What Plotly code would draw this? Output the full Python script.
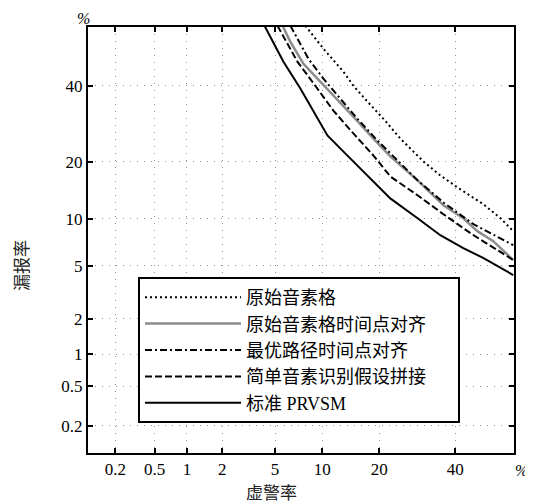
import plotly.graph_objects as go
from statistics import NormalDist

nd = NormalDist()
def probit(p):
    return [nd.inv_cdf(v / 100.0) for v in p]

# tick values (%)
tick_pct = [0.2, 0.5, 1, 2, 5, 10, 20, 40]
tick_text = ["0.2", "0.5", "1", "2", "5", "10", "20", "40"]

# series: false-alarm rate (%) vs miss rate (%)
names = ["原始音素格", "原始音素格时间点对齐", "最优路径时间点对齐", "简单音素识别假设拼接", "标准 PRVSM"]

fa_lattice = [7.91, 10.17, 13.2, 14.9, 17.6, 20.9, 24.9, 30.85, 35.6, 40.6, 48.6, 53.8, 57.7]
miss_lattice = [58.3, 51.3, 44.2, 40.0, 35.3, 30.6, 25.4, 20.1, 17.2, 14.96, 12.1, 10.08, 8.43]

fa_lattice_tp = [5.62, 6.34, 7.69, 9.77, 10.73, 11.6, 14.9, 18.8, 22.5, 29.3, 36.5, 42.4, 46.7, 51.6, 57.7]
miss_lattice_tp = [58.3, 53.4, 46.65, 41.2, 39.1, 37.1, 31.1, 25.4, 21.2, 16.25, 11.96, 10.08, 8.43, 7.30, 5.48]

fa_best = [6.34, 8.26, 10.17, 12.7, 15.6, 19.6, 23.7, 29.3, 36.5, 45.5, 57.7]
miss_best = [58.3, 48.2, 42.1, 36.2, 30.6, 24.96, 20.75, 16.25, 12.4, 9.29, 6.88]

fa_simple = [5.19, 7.04, 9.38, 11.6, 14.9, 18.8, 22.5, 29.3, 36.5, 45.5, 57.7]
miss_simple = [58.3, 47.3, 39.1, 32.8, 26.7, 21.4, 17.0, 13.57, 10.64, 7.96, 5.48]

fa_prvsm = [4.21, 5.70, 7.37, 8.87, 10.73, 13.2, 16.2, 19.6, 22.5, 29.3, 35.6, 42.4, 48.6, 57.7]
miss_prvsm = [58.3, 47.3, 39.1, 32.5, 26.2, 22.3, 18.6, 15.15, 13.06, 10.08, 7.96, 6.58, 5.65, 4.31]

series = [
    (fa_lattice, miss_lattice, dict(color="black", width=2, dash="2px,3px")),
    (fa_lattice_tp, miss_lattice_tp, dict(color="#8c8c8c", width=2.5, dash="solid")),
    (fa_best, miss_best, dict(color="black", width=2, dash="7px,3px,2px,3px")),
    (fa_simple, miss_simple, dict(color="black", width=2, dash="7px,3px")),
    (fa_prvsm, miss_prvsm, dict(color="black", width=2, dash="solid")),
]

# trailing no-break spaces only widen the legend box like the reference's right padding
pad = "\u00a0" * 6

fig = go.Figure()
for i, (name, (fx, my, ln)) in enumerate(zip(names, series)):
    label = name + pad if i == 3 else name
    fig.add_trace(go.Scatter(x=probit(fx), y=probit(my), mode="lines", name=label, line=ln))

rng = [-3.09, 0.20]
axis_common = dict(
    range=rng,
    tickvals=probit(tick_pct),
    ticktext=tick_text,
    ticks="inside",
    ticklen=5,
    tickwidth=1.5,
    tickcolor="black",
    showline=True,
    linecolor="black",
    linewidth=2,
    mirror="ticks",
    showgrid=True,
    gridcolor="#909090",
    gridwidth=1,
    griddash="1px,6px",
    zeroline=False,
    tickfont=dict(family="Liberation Serif", size=17, color="black"),
)

# the page body adds an 8px offset; compensate so the plot lands where the reference has it
OFF = 8
W, H = 533 - OFF, 504 - OFF
L, R, T, B = 88 - OFF, 19, 27 - OFF, 51
pw, ph = W - L - R, H - T - B
def px(x):
    return (x - OFF - L) / pw
def py(y):
    return (H - B - (y - OFF)) / ph

fig.update_layout(
    width=W, height=H,
    margin=dict(l=L, r=R, t=T, b=B),
    paper_bgcolor="white",
    plot_bgcolor="white",
    xaxis=dict(**axis_common),
    yaxis=dict(**axis_common),
    showlegend=True,
    legend=dict(
        x=px(138), y=py(277), xanchor="left", yanchor="top",
        bordercolor="black", borderwidth=2, bgcolor="white",
        font=dict(family="Liberation Serif, Noto Sans CJK SC", size=18, color="black"),
        itemwidth=96,
        tracegroupgap=0,
    ),
)

ann_font = dict(family="Liberation Serif, Noto Sans CJK SC", size=17, color="#222")
pct_font = dict(family="Liberation Serif", size=16, color="black")
common = dict(xref="paper", yref="paper", showarrow=False, xanchor="center", yanchor="middle")
fig.add_annotation(text="<i>%</i>", x=px(83), y=py(19), font=pct_font, **common)
fig.add_annotation(text="<i>%</i>", x=px(521), y=py(470), font=pct_font, **common)
fig.add_annotation(text="虚警率", x=px(271), y=py(493), font=ann_font, **common)
fig.add_annotation(text="漏报率", x=px(22), y=py(266), textangle=-90, font=ann_font, **common)

fig.write_html("out.html")
